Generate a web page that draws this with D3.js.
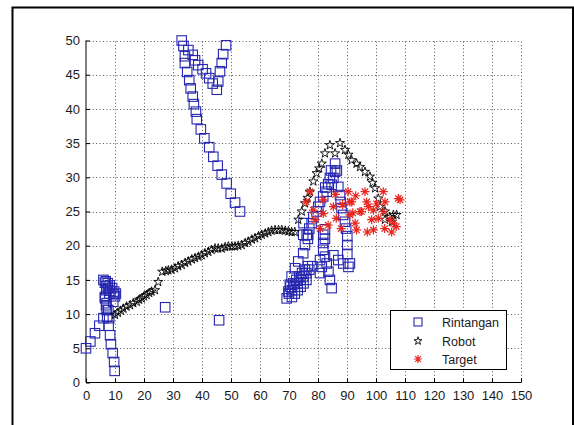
<!DOCTYPE html>
<html><head><meta charset="utf-8">
<script src="https://cdn.jsdelivr.net/npm/d3@7"></script>
<style>
html,body{margin:0;padding:0;background:#fff;}
svg{display:block;}
text{font-family:"Liberation Sans",Arial,sans-serif;}
</style></head>
<body>
<svg id="chart" width="574" height="425"></svg>
<script>
// ---------- data ----------
const xTicks = [0,10,20,30,40,50,60,70,80,90,100,110,120,130,140,150];
const yTicks = [0,5,10,15,20,25,30,35,40,45,50];
const seriesNames = ["Rintangan","Robot","Target"];

// Rintangan (obstacles) – squares
const obstacleX = [
 0,1.5,3.1,4.6,6,7.3,7.8,8.3,8.6,9.2,9.7,9.9,
 6.6,7.1,7.7,8,6.5,6.9,7.1,
 6,6.5,7,7.6,8.4,9.5,10,6.8,7.5,8.2,9,9.7,10.3,8,9.4,7,
 27.3,45.9,
 33,33.6,34.1,34.1,34.9,35.6,36.1,36.8,37.2,37.9,38.2,39.6,40.8,42.5,43.9,45.4,46.8,48.5,49.9,51.4,53.1,
 35.3,36.8,37.6,38.7,40.2,41.4,42.5,43.7,45.1,45.6,46.2,46.8,47.3,48.3,
 85.9,85.9,85.3,84.1,84.7,83,81.8,80.7,80.1,79.5,78.4,77.8,77,76.1,74.9,75.5,74.9,73.2,72.1,70.9,70.3,69.8,69.2,
 86.5,84.5,83.5,82.5,
 87,87.6,87.8,88.1,88.7,89.3,89.7,90.1,90.1,90.1,91,
 81.8,81.8,81.8,82.4,83,83.6,84.1,84.7,82.4,82.4,
 85.3,87,88.7,90.5,
 70,71,72,73,74,75,76,77,78,70.5,71.5,72.5,73.5,74.5,75.5,76.5,71,72,73,74,75,76,
 80.7,81.3,80.7,76.6,75,76.5
];
const obstacleY = [
 5,6,7.2,8.3,9.4,9.6,8.3,6.9,5.6,4.3,3,1.7,
 12.3,11.6,10.6,9.4,12.5,11.3,10.6,
 15,14.6,14.1,13.8,13.4,12.9,12.6,14.8,14.5,14.2,13.8,13.3,13,13,11.8,13.5,
 11,9.1,
 50,49.2,47.7,46.7,45.4,44.2,43,41.8,40.7,39.6,38.5,37,35.7,34.4,33,31.7,30.4,29.1,27.6,26.3,25,
 48.6,47.9,47.1,46.4,45.8,45.2,44.5,43.7,42.8,44,45.5,46.7,48,49.3,
 32,30.8,29.9,29.9,28.9,27.9,27.2,26.4,25.7,25,24.2,23.3,22.5,21.6,21.6,20.1,18.9,17.7,16.7,15.5,14.3,13.3,12.3,
 31,31,29,28.5,
 28.6,27.4,26.4,25.5,24.5,23.5,22.5,21.4,20.1,18.8,17.4,
 21.6,20.4,19.4,18.4,17.4,16.2,15,13.8,22.4,21,
 18.6,17.9,17.4,16.9,
 13,13.5,14,14.5,15,15.5,16,16.5,17,14,14.5,15,15.5,16,16.5,17,12.5,13,13.5,14,14.5,15,
 16,16.9,17.9,21.6,23.3,21
];

// Robot path – pentagrams
const robotX = [
 10,11,12,12.9,14,15.2,16.3,17.5,18.3,19.2,20,20.9,21.8,22.6,23.8,24.9,26.3,
 27.5,28.4,29.5,30.7,31.8,33,34.2,35.3,36.5,37.6,38.8,39.9,41,42.2,43.3,44.5,45.6,46.8,48,49.1,50.3,51.4,52.5,53.7,54.9,56,57.2,58.3,59.5,60.6,61.8,62.9,64,65.2,66.4,67.5,68.7,69.8,70.9,72,
 73.2,74.4,75.5,76.4,77.2,78.4,79.5,80.4,81.3,82.4,84.1,85.9,87.6,89.3,90.5,91.6,93.3,94.5,96.2,97.9,98.8,99.7,100.8,101.4,103.1,104.8,106,107.1,103.1,105.5
];
const robotY = [
 9.9,10.2,10.5,10.8,11.1,11.3,11.6,11.8,12.1,12.3,12.6,12.8,13.1,13.3,13.5,14.7,16.2,
 16.3,16.4,16.5,16.7,17,17.2,17.5,17.7,18,18.2,18.4,18.6,18.9,19.1,19.4,19.6,19.6,19.6,19.8,19.9,19.9,19.9,20,20.1,20.4,20.6,20.9,21.1,21.4,21.6,21.8,22,22.2,22.3,22.3,22.3,22.2,22.1,22,22,
 23.8,25,26.2,27,27.9,29.4,30.6,31.3,32,33.5,34.7,33.5,35,34,33.3,32.5,32,31.5,30.8,30.1,29.2,28.4,26.9,25.7,25,24.2,24.5,24.5,23.8,23.5
];

// Target – red asterisks
const targetX = [77.2,75.9,81.8,78.4,81.8,79,80.7,90.4,91,85.3,86.3,93.3,96.2,97.4,102.5,103.1,107.7,100.8,106,99.1,94.5,91,100.2,92,92.8,98.5,104.8,105.4,91.6,96.8,95,99.1,102.5,108.3,86,83.5,88,97,103,107,93,88.5];
const targetY = [27.9,26.4,26.7,25.2,24.7,23.8,22.5,27.9,26.4,25.7,24,22.3,27.9,25.7,27.9,26.4,26.9,24,23.3,22.3,25,24.5,26.1,24.8,23.3,23.8,23.8,22,26.4,26.4,25,25.2,25,26.7,27.5,23,22.5,22,22.5,22.8,27.3,26];

// ---------- drawing ----------
const svg = d3.select("#chart");
const blue = "#2626b0", red = "#e8261e";

// outer figure frame
svg.append("path").attr("d","M12.5,430 L12.5,7.5 L573,7.5 L573,430")
   .attr("fill","none").attr("stroke","#000").attr("stroke-width",2);

const x = d3.scaleLinear().domain([0,150]).range([86,521]);
const y = d3.scaleLinear().domain([0,50]).range([382.5,40.5]);

// grid
const grid = svg.append("g").attr("stroke","#555").attr("stroke-width",1).attr("stroke-dasharray","1,2.4");
grid.selectAll(".gx").data(xTicks.slice(1)).join("line")
  .attr("x1",d=>Math.round(x(d))+0.5).attr("x2",d=>Math.round(x(d))+0.5)
  .attr("y1",y(0)).attr("y2",y(50));
grid.selectAll(".gy").data(yTicks.slice(1)).join("line")
  .attr("y1",d=>Math.round(y(d))+0.5).attr("y2",d=>Math.round(y(d))+0.5)
  .attr("x1",x(0)).attr("x2",x(150));

// axes
const xAxis = d3.axisBottom(x).tickValues(xTicks).tickSize(-4).tickPadding(8).tickFormat(d3.format("d"));
const yAxis = d3.axisLeft(y).tickValues(yTicks).tickSize(-4).tickPadding(6).tickFormat(d3.format("d"));
const gx = svg.append("g").attr("transform",`translate(0,${y(0)})`).call(xAxis);
const gy = svg.append("g").attr("transform",`translate(${x(0)},0)`).call(yAxis);
[gx,gy].forEach(g=>{
  g.select(".domain").remove();
  g.selectAll("text").attr("font-size",13).attr("fill","#1a1a1a")
   .attr("font-family","'Liberation Sans',Arial,sans-serif");
  g.selectAll("line").attr("stroke","#000");
});
svg.append("line").attr("x1",x(0)).attr("x2",x(150)).attr("y1",y(0)).attr("y2",y(0)).attr("stroke","#000");
svg.append("line").attr("x1",x(0)).attr("x2",x(0)).attr("y1",y(0)).attr("y2",y(50)).attr("stroke","#000");

// marker generators
const sq = 9.5;
const starPath = d3.symbol().type(d3.symbolStar).size(26)();
function asterisk(r){
  const d = r*0.7071;
  return `M${-r},0L${r},0M0,${-r}L0,${r}M${-d},${-d}L${d},${d}M${-d},${d}L${d},${-d}`;
}

// obstacles
const obstacles = obstacleX.map((v,i)=>({x:v,y:obstacleY[i]}));
svg.append("g").selectAll("rect").data(obstacles).join("rect")
  .attr("x",d=>x(d.x)-sq/2).attr("y",d=>y(d.y)-sq/2)
  .attr("width",sq).attr("height",sq)
  .attr("fill","none").attr("stroke",blue).attr("stroke-width",1.1);

// robot
const robot = robotX.map((v,i)=>({x:v,y:robotY[i]}));
svg.append("g").selectAll("path").data(robot).join("path")
  .attr("d",starPath).attr("transform",d=>`translate(${x(d.x)},${y(d.y)})`)
  .attr("fill","none").attr("stroke","#000").attr("stroke-width",0.9);

// target
const target = targetX.map((v,i)=>({x:v,y:targetY[i]}));
svg.append("g").selectAll("path").data(target).join("path")
  .attr("d",asterisk(4.5)).attr("transform",d=>`translate(${x(d.x)},${y(d.y)})`)
  .attr("fill","none").attr("stroke",red).attr("stroke-width",1.2);

// legend
const lg = svg.append("g");
lg.append("rect").attr("x",390.5).attr("y",310.5).attr("width",116).attr("height",59)
  .attr("fill","#fff").attr("stroke","#000").attr("stroke-width",1);
const rows = [322,341,359];
lg.append("rect").attr("x",418-4).attr("y",rows[0]-4).attr("width",8).attr("height",8)
  .attr("fill","none").attr("stroke",blue).attr("stroke-width",1.1);
lg.append("path").attr("d",d3.symbol().type(d3.symbolStar).size(20)()).attr("transform",`translate(418,${rows[1]})`)
  .attr("fill","none").attr("stroke","#000").attr("stroke-width",0.9);
lg.append("path").attr("d",asterisk(4)).attr("transform",`translate(418,${rows[2]})`)
  .attr("fill","none").attr("stroke",red).attr("stroke-width",1.2);
lg.selectAll("text.lbl").data(seriesNames).join("text")
  .attr("x",442).attr("y",(d,i)=>rows[i]).attr("dy","0.36em")
  .attr("font-size",12.5).attr("fill","#1a1a1a").text(d=>d);
</script>
</body></html>
